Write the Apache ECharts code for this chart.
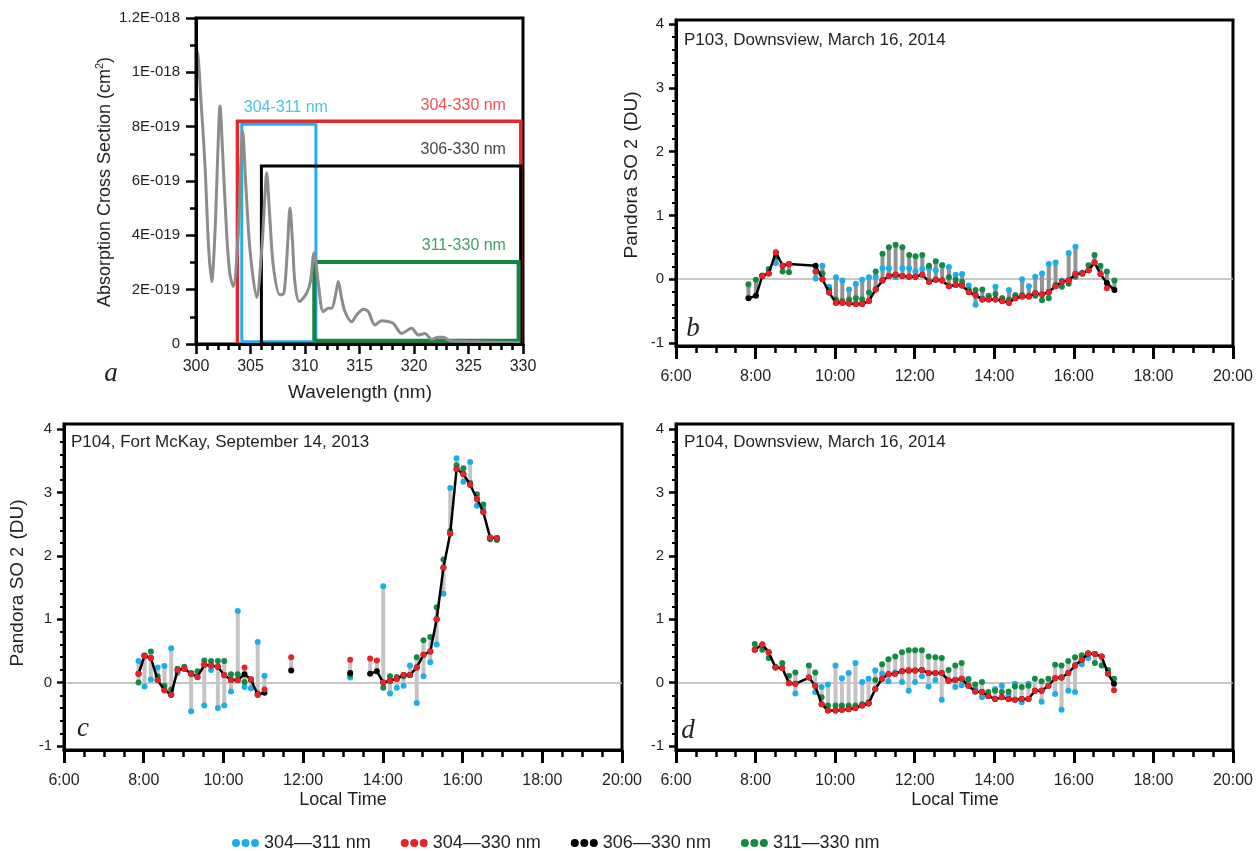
<!DOCTYPE html>
<html><head><meta charset="utf-8">
<script src="https://cdn.jsdelivr.net/npm/echarts@6/dist/echarts.min.js"></script>
<style>html,body{margin:0;padding:0;background:#fff}#c{width:1256px;height:851px}</style>
</head><body><div id="c"></div>
<script>
// ---------- Panel a: SO2 absorption cross section (units of 1E-19 cm2) ----------
const specWl  = [300.0,300.12,300.45,300.83,301.15,301.44,301.74,302.0,302.2,302.45,302.81,303.1,303.42,303.88,304.1,304.28,304.55,304.95,305.57,306.03,306.3,306.48,306.75,307.1,307.7,308.07,308.4,308.62,308.85,309.08,309.48,310.15,310.5,310.83,311.0,311.22,311.68,312.14,312.45,312.8,313.06,313.35,313.67,314.28,314.74,315.35,315.81,316.42,317.04,317.5,318.1,318.87,319.79,320.4,321.0,321.62,322.23,322.69,323.3,324.5,327.0,329.7];
const specVal = [10.0,10.8,9.0,6.55,3.6,2.3,4.1,7.0,8.76,7.0,4.1,2.6,2.12,4.1,6.5,7.84,6.0,3.47,1.71,3.47,5.3,6.3,4.8,2.85,1.81,1.87,3.6,5.01,3.8,2.24,1.56,1.87,2.3,3.35,3.0,2.24,1.19,1.32,1.32,1.8,2.3,1.7,1.19,0.82,1.07,1.28,1.19,0.70,0.86,0.84,0.76,0.39,0.58,0.33,0.39,0.17,0.25,0.25,0.12,0.10,0.07,0.05];
const bandNames  = ['304-330 nm','304-311 nm','306-330 nm','311-330 nm'];
const bandStart  = [303.8, 304.2, 306.0, 310.85];
const bandEnd    = [329.8, 311.0, 329.8, 329.6];
const bandTop    = [8.2, 8.09, 6.55, 3.02];
const bandBottom = [-0.14, 0.08, 0.0, 0.12];
const aYTickValues = [0,2,4,6,8,10,12];
const aYTickLabels = ['0','2E-019','4E-019','6E-019','8E-019','1E-018','1.2E-018'];

// ---------- Time axes ----------
const timeTicks = [6,8,10,12,14,16,18,20];
const timeTickLabels = ['6:00','8:00','10:00','12:00','14:00','16:00','18:00','20:00'];
const duTicks = [-1,0,1,2,3,4];
const duMinorTicks = [-0.8,-0.6,-0.4,-0.2,0.2,0.4,0.6,0.8,1.2,1.4,1.6,1.8,2.2,2.4,2.6,2.8,3.2,3.4,3.6,3.8];
const seriesNames = ['304\u2014311 nm','304\u2014330 nm','306\u2014330 nm','311\u2014330 nm'];

// ---------- Panel b: P103, Downsview ----------
const bTime  = [7.82,8.01,8.17,8.33,8.51,8.68,8.84,9.51,9.68,9.85,10.02,10.18,10.35,10.52,10.68,10.85,11.02,11.19,11.35,11.52,11.69,11.86,12.02,12.19,12.36,12.53,12.69,12.86,13.03,13.19,13.36,13.53,13.70,13.86,14.03,14.20,14.37,14.53,14.70,14.87,15.03,15.20,15.37,15.54,15.70,15.87,16.04,16.21,16.37,16.52,16.67,16.83,17.02];
const bBlue  = [null,null,null,null,0.25,null,null,0.01,0.21,-0.12,0.03,-0.02,-0.16,-0.07,-0.01,0.03,0.04,0.17,0.17,0.03,0.17,0.17,0.12,0.16,0.17,0.14,0.22,0.19,0.07,0.08,-0.10,-0.40,-0.30,-0.28,-0.12,-0.30,-0.17,-0.25,0.00,-0.11,0.04,0.09,0.24,0.26,-0.02,0.41,0.51,0.10,null,null,null,null,null];
const bRed   = [null,null,0.05,0.09,0.42,0.21,0.24,0.12,0.00,-0.21,-0.37,-0.37,-0.38,-0.39,-0.39,-0.34,-0.16,-0.02,0.05,0.07,0.05,0.04,0.04,0.07,-0.04,-0.01,-0.02,-0.11,-0.09,-0.10,-0.20,-0.25,-0.32,-0.32,-0.32,-0.34,-0.37,-0.30,-0.27,-0.27,-0.22,-0.24,-0.20,-0.11,-0.04,-0.02,0.08,0.09,0.14,0.26,0.08,-0.14,null];
const bBlack = [-0.30,-0.26,0.05,0.09,0.42,0.21,0.24,0.21,0.00,-0.21,-0.37,-0.37,-0.38,-0.39,-0.39,-0.34,-0.16,-0.02,0.05,0.07,0.05,0.04,0.04,0.07,-0.04,-0.01,-0.02,-0.11,-0.09,-0.10,-0.20,-0.25,-0.32,-0.32,-0.32,-0.34,-0.37,-0.30,-0.27,-0.27,-0.22,-0.24,-0.20,-0.11,-0.04,-0.02,0.08,0.09,0.14,0.26,0.08,-0.06,-0.17];
const bGreen = [-0.08,-0.01,0.06,0.16,0.35,0.12,0.11,0.12,0.09,-0.17,-0.32,-0.34,-0.32,-0.30,-0.32,-0.21,0.12,0.40,0.50,0.54,0.50,0.38,0.36,0.38,0.21,0.28,0.22,0.03,-0.01,-0.04,-0.17,-0.17,-0.16,-0.26,-0.23,-0.30,-0.32,-0.25,-0.25,-0.26,-0.26,-0.33,-0.30,-0.09,-0.12,-0.07,0.04,0.09,0.22,0.38,0.21,0.12,-0.02];

// ---------- Panel c: P104, Fort McKay ----------
const cTime  = [7.87,8.02,8.18,8.35,8.52,8.69,8.85,9.02,9.19,9.35,9.52,9.69,9.86,10.02,10.19,10.36,10.53,10.69,10.86,11.03,11.70,13.18,13.68,13.85,14.01,14.18,14.35,14.52,14.68,14.85,15.02,15.19,15.35,15.52,15.69,15.85,16.02,16.19,16.36,16.52,16.69,16.86];
const cBlue  = [0.34,-0.06,0.05,0.24,0.26,0.54,0.15,null,-0.45,null,-0.36,0.20,-0.40,-0.36,-0.14,1.13,-0.07,-0.09,0.64,0.11,null,0.08,null,null,1.52,-0.17,-0.08,-0.05,0.27,-0.32,0.10,0.32,0.60,1.40,3.07,3.54,3.17,3.48,2.79,2.74,null,null];
const cRed   = [0.14,0.42,0.39,0.04,-0.12,-0.19,0.20,0.22,0.14,0.09,0.28,0.27,0.25,0.12,0.04,0.04,0.24,0.05,-0.19,-0.11,0.40,0.36,0.38,0.35,0.00,0.03,0.06,0.12,0.12,0.24,0.44,0.49,1.00,1.81,2.35,3.37,3.29,3.12,2.90,2.69,2.29,2.28];
const cBlack = [0.14,0.42,0.39,0.04,-0.12,-0.19,0.20,0.22,0.14,0.09,0.28,0.27,0.25,0.12,0.04,0.04,0.13,0.05,-0.19,-0.16,0.19,0.15,0.14,0.18,0.00,0.03,0.06,0.12,0.12,0.24,0.44,0.49,1.00,1.81,2.35,3.37,3.29,3.12,2.90,2.69,2.29,2.28];
const cGreen = [0.00,0.43,0.49,0.10,-0.05,-0.11,0.22,0.25,0.15,0.18,0.35,0.34,0.34,0.34,0.13,0.13,0.01,0.05,-0.17,null,null,0.12,null,null,-0.08,0.10,0.09,0.10,0.12,0.40,0.67,0.72,1.19,1.94,2.39,3.43,3.38,3.15,2.97,2.81,2.26,2.25];
const cLineBreaks = [11.35, 12.5, 13.45];

// ---------- Panel d: P104, Downsview ----------
const dTime  = [7.98,8.17,8.33,8.50,8.67,8.84,9.00,9.34,9.50,9.66,9.82,10.01,10.17,10.34,10.51,10.68,10.84,11.01,11.18,11.34,11.51,11.68,11.85,12.01,12.18,12.35,12.52,12.68,12.85,13.02,13.18,13.35,13.52,13.69,13.85,14.02,14.19,14.36,14.52,14.69,14.86,15.02,15.19,15.36,15.53,15.69,15.86,16.03,16.20,16.36,16.53,16.70,16.86,17.01];
const dBlue  = [null,null,null,null,null,null,-0.17,null,-0.15,-0.07,-0.03,0.27,0.07,0.15,0.31,0.01,0.06,0.19,0.14,0.02,0.16,0.01,-0.13,0.01,0.10,-0.06,0.04,-0.27,0.04,-0.07,-0.04,0.06,-0.10,-0.23,-0.21,-0.10,-0.05,-0.19,-0.02,-0.31,-0.02,null,-0.30,null,-0.18,-0.43,-0.13,-0.15,0.29,0.39,null,null,null,null];
const dRed   = [0.52,0.60,0.48,0.24,0.23,-0.01,-0.02,0.08,-0.05,-0.34,-0.44,-0.44,-0.43,-0.42,-0.40,-0.36,-0.33,-0.10,0.06,0.13,0.14,0.18,0.19,0.19,0.20,0.15,0.15,0.15,0.03,0.04,0.06,-0.05,-0.14,-0.15,-0.21,-0.26,-0.23,-0.26,-0.27,-0.26,-0.26,-0.13,-0.13,-0.05,0.07,0.08,0.15,0.27,0.36,0.46,0.45,0.41,0.14,-0.12];
const dBlack = [0.52,0.60,0.48,0.24,0.23,-0.01,-0.02,0.08,-0.05,-0.34,-0.44,-0.44,-0.43,-0.42,-0.40,-0.36,-0.33,-0.10,0.06,0.13,0.14,0.18,0.19,0.19,0.20,0.15,0.15,0.15,0.03,0.04,0.06,-0.05,-0.14,-0.15,-0.21,-0.26,-0.23,-0.26,-0.27,-0.26,-0.26,-0.13,-0.13,-0.05,0.07,0.08,0.15,0.27,0.36,0.46,0.45,0.41,0.14,-0.02];
const dGreen = [0.61,0.52,0.39,0.25,0.31,0.11,0.16,0.27,0.16,-0.23,-0.36,-0.36,-0.36,-0.36,-0.36,-0.34,-0.31,0.04,0.29,0.37,0.41,0.48,0.51,0.51,0.51,0.41,0.40,0.39,0.20,0.27,0.31,0.05,-0.03,0.01,-0.15,-0.13,-0.15,-0.14,-0.06,-0.07,-0.05,0.06,0.02,0.06,0.28,0.27,0.34,0.40,0.43,0.46,0.31,0.27,0.20,0.06];

// ---------- styles ----------
const FONT = 'Liberation Sans, Arial, sans-serif';
const TXT = '#231f20';
const COL = {blue:'#1caee9', red:'#ec2127', black:'#000000', green:'#128a43'};
const BAND_COL = ['#e8262b','#22b0ea','#000000','#148543'];
const BAND_W = [3.5, 3, 3, 4];

const chart = echarts.init(document.getElementById('c'), null, {renderer:'canvas'});

function pts(time, vals){ const out=[]; time.forEach((t,i)=>{ if(vals[i]!=null) out.push([t, vals[i]]); }); return out; }
function linePts(time, vals, breaks){
  const out = pts(time, vals);
  (breaks||[]).forEach(b=>{ const k = out.findIndex(p=>p[0]>b); out.splice(k,0,[b,'-']); });
  return out;
}
function ranges(time, arrs){
  return time.map((t,i)=>{ const v = arrs.map(a=>a[i]).filter(x=>x!=null); return [t, Math.min(...v), Math.max(...v)]; });
}
function rangeBar(w, color){
  return function(params, api){
    const lo = api.coord([api.value(0), api.value(1)]);
    const hi = api.coord([api.value(0), api.value(2)]);
    return {type:'rect', shape:{x: lo[0]-w/2, y: hi[1], width: w, height: Math.max(lo[1]-hi[1], 0.1)}, style:{fill: color}};
  };
}

const grids = [
  {left:196, top:18, width:327, height:326},
  {left:676, top:20, width:558, height:326},
  {left:64,  top:424, width:558, height:326},
  {left:676, top:424, width:558, height:326}
].map(g=>Object.assign(g,{show:true, borderColor:'#000', borderWidth:3, containLabel:false}));

const xAxes = [
  {gridIndex:0, type:'value', min:300, max:330, interval:5, z:5,
   axisLine:{onZero:false, lineStyle:{color:'#000', width:3}},
   axisTick:{length:10, lineStyle:{color:'#000', width:2.5}},
   minorTick:{show:true, splitNumber:5, length:6, lineStyle:{color:'#000', width:2.5}},
   splitLine:{show:false},
   axisLabel:{fontSize:16, fontFamily:FONT, color:TXT, margin:15}}
];
const yAxes = [
  {gridIndex:0, type:'value', min:0, max:12, interval:2, z:5,
   axisLine:{show:true, onZero:false, lineStyle:{color:'#000', width:3}},
   axisTick:{show:true, length:10, lineStyle:{color:'#000', width:2.5}},
   minorTick:{show:true, splitNumber:2, length:6, lineStyle:{color:'#000', width:2.5}},
   splitLine:{show:false},
   axisLabel:{fontSize:15, fontFamily:FONT, color:TXT, margin:16,
     formatter: v => { const k = aYTickValues.indexOf(Math.round(v)); return k>=0 ? aYTickLabels[k] : ''; }}}
];
const yRanges = [null, [-1.047, 4.063], [-1.063, 4.079], [-1.063, 4.079]];
for (let g=1; g<=3; g++){
  xAxes.push({gridIndex:g, type:'value', min:6, max:20, interval:2, z:5,
    axisLine:{onZero:false, lineStyle:{color:'#000', width:3}},
    axisTick:{length:13, lineStyle:{color:'#000', width:3}},
    minorTick:{show:true, splitNumber:4, length:7, lineStyle:{color:'#000', width:2.5}},
    splitLine:{show:false},
    axisLabel:{fontSize:16, fontFamily:FONT, color:TXT, margin:23,
      formatter: v => { const k = timeTicks.indexOf(v); return k>=0 ? timeTickLabels[k] : ''; }}});
  yAxes.push({gridIndex:g, type:'value', min:yRanges[g][0], max:yRanges[g][1], z:5,
    axisLine:{show:true, onZero:false, lineStyle:{color:'#000', width:3}},
    axisTick:{show:true, length:7, customValues:duTicks, lineStyle:{color:'#000', width:2.5}},
    splitLine:{show:false},
    axisLabel:{fontSize:15, fontFamily:FONT, color:TXT, margin:12, customValues:duTicks}});
  yAxes.push({gridIndex:g, type:'value', min:yRanges[g][0], max:yRanges[g][1], position:'left', z:5,
    axisLine:{show:false, onZero:false},
    axisTick:{show:true, length:4, customValues:duMinorTicks, lineStyle:{color:'#000', width:2}},
    splitLine:{show:false},
    axisLabel:{show:false}});
}

const series = [];
// panel a boxes
bandNames.forEach((n,i)=>{
  const x0=bandStart[i], x1=bandEnd[i], y0=bandBottom[i], y1=bandTop[i];
  series.push({type:'line', xAxisIndex:0, yAxisIndex:0, name:'band'+i, symbol:'none', silent:true, z:2,
    data:[[x0,y0],[x0,y1],[x1,y1],[x1,y0],[x0,y0]],
    lineStyle:{color:BAND_COL[i], width:BAND_W[i], join:'miter'}});
});
// spectrum
series.push({type:'line', xAxisIndex:0, yAxisIndex:0, name:'spectrum', symbol:'none', smooth:0.3, z:3,
  data: specWl.map((w,i)=>[w, specVal[i]]), lineStyle:{color:'#8c8c8c', width:3}});
// band labels
series.push({type:'scatter', xAxisIndex:0, yAxisIndex:0, symbolSize:0.1, silent:true, z:4,
  data: bandNames.map((n,i)=>{
    const left = (i===1);
    return {value:[left?bandStart[i]:330, bandTop[i]], name:n,
      label:{show:true, formatter:n, fontSize:16, fontFamily:FONT, color:BAND_COL[i]==='#000000'?'#111':BAND_COL[i],
        position: left ? [2,-17] : [-17,-16], align: left?'left':'right', verticalAlign:'middle'}};
  })});

function addPanel(g, time, blue, red, black, green, barColor, breaks){
  const xi = g, yi = 2*g-1;
  series.push({type:'custom', xAxisIndex:xi, yAxisIndex:yi, z:1, silent:true,
    renderItem: rangeBar(4, barColor), encode:{x:0, y:[1,2]},
    data: ranges(time, [blue, red, black, green]),
    markLine:{silent:true, symbol:['none','none'], label:{show:false}, animation:false, z:0,
      lineStyle:{color:'#b4b4b4', width:1.5, type:'solid'}, data:[{yAxis:0}]}});
  series.push({type:'scatter', name:seriesNames[0], xAxisIndex:xi, yAxisIndex:yi, z:2, symbolSize:6,
    itemStyle:{color:COL.blue, opacity:1}, data: pts(time, blue)});
  series.push({type:'scatter', name:seriesNames[3], xAxisIndex:xi, yAxisIndex:yi, z:3, symbolSize:6,
    itemStyle:{color:COL.green, opacity:1}, data: pts(time, green)});
  series.push({type:'line', name:seriesNames[2], xAxisIndex:xi, yAxisIndex:yi, z:4, symbol:'circle', symbolSize:6,
    showAllSymbol:true, connectNulls:false,
    itemStyle:{color:COL.black}, lineStyle:{color:'#000', width:2.5}, data: linePts(time, black, breaks)});
  series.push({type:'scatter', name:seriesNames[1], xAxisIndex:xi, yAxisIndex:yi, z:5, symbolSize:6,
    itemStyle:{color:COL.red, opacity:1}, data: pts(time, red)});
}
addPanel(1, bTime, bBlue, bRed, bBlack, bGreen, '#939393', []);
addPanel(2, cTime, cBlue, cRed, cBlack, cGreen, '#c4c4c4', cLineBreaks);
addPanel(3, dTime, dBlue, dRed, dBlack, dGreen, '#c4c4c4', []);

const DOT3 = 'path://M4,0A4,4 0 1 1 4,8A4,4 0 1 1 4,0ZM13.5,0A4,4 0 1 1 13.5,8A4,4 0 1 1 13.5,0ZM23,0A4,4 0 1 1 23,8A4,4 0 1 1 23,0Z';

function txt(x, y, text, size, opts){
  return Object.assign({type:'text', x, y, silent:true,
    style:Object.assign({text, fontSize:size, fontFamily:FONT, fill:TXT, textAlign:'left', textVerticalAlign:'middle'}, (opts&&opts.style)||{})},
    opts&&opts.el||{});
}
const SERIF = {fontFamily:'Liberation Serif, serif', fontStyle:'italic', textAlign:'center'};
const YT_RICH = {a:{fontSize:19, fontFamily:FONT, fill:TXT}, s:{fontSize:18, fontFamily:FONT, fill:TXT, padding:[0,2,0,5]}};
const graphics = [
  txt(684, 40, 'P103, Downsview, March 16, 2014', 17),
  txt(71, 442, 'P104, Fort McKay, September 14, 2013', 17),
  txt(684, 442, 'P104, Downsview, March 16, 2014', 17),
  txt(111, 374, 'a', 27, {style:SERIF}),
  txt(693, 329, 'b', 27, {style:SERIF}),
  txt(83, 729, 'c', 27, {style:SERIF}),
  txt(688, 731, 'd', 27, {style:SERIF}),
  txt(360, 393, 'Wavelength (nm)', 19, {style:{textAlign:'center'}}),
  txt(343, 800, 'Local Time', 18, {style:{textAlign:'center'}}),
  txt(955, 800, 'Local Time', 18, {style:{textAlign:'center'}}),
  {type:'text', x:105, y:182, rotation:Math.PI/2, silent:true,
    style:{text:'{a|Absorption Cross Section (cm}{s|2}{a|)}', textAlign:'center', textVerticalAlign:'middle',
      rich:{a:{fontSize:18, fontFamily:FONT, fill:TXT, lineHeight:22}, s:{fontSize:11, fontFamily:FONT, fill:TXT, lineHeight:12, verticalAlign:'top'}}}},
  {type:'text', x:632, y:175, rotation:Math.PI/2, silent:true,
    style:{text:'{a|Pandora SO}{s|2}{a| (DU)}', textAlign:'center', textVerticalAlign:'middle', rich:YT_RICH}},
  {type:'text', x:18, y:583, rotation:Math.PI/2, silent:true,
    style:{text:'{a|Pandora SO}{s|2}{a| (DU)}', textAlign:'center', textVerticalAlign:'middle', rich:YT_RICH}}
];

chart.setOption({
  animation:false,
  backgroundColor:'#fff',
  grid: grids,
  xAxis: xAxes,
  yAxis: yAxes,
  legend:{left:227, top:829, itemWidth:27, itemHeight:8, itemGap:30, selectedMode:false,
    textStyle:{fontSize:18, fontFamily:FONT, color:TXT},
    data: seriesNames.map(n=>({name:n, icon:DOT3}))},
  graphic: graphics,
  series: series
});
</script></body></html>
